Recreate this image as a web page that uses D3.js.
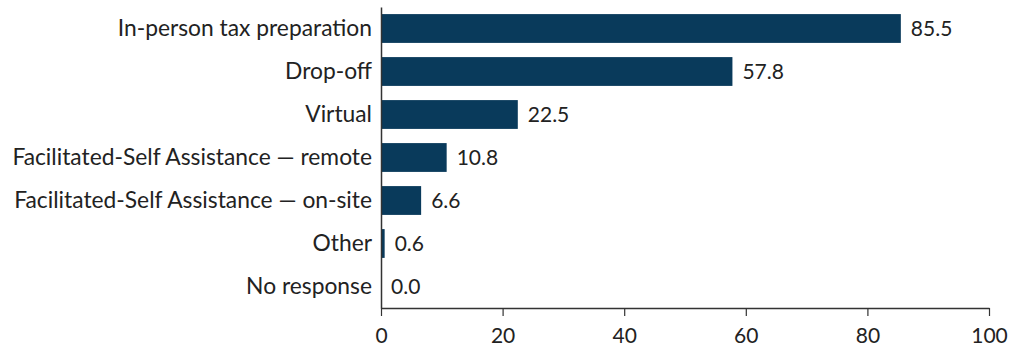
<!DOCTYPE html>
<html>
<head>
<meta charset="utf-8">
<script src="https://cdn.jsdelivr.net/npm/d3@7"></script>
<style>
  html, body { margin: 0; padding: 0; background: #fff; }
  svg text { font-family: "Lato", "Noto Sans", sans-serif; fill: #222; }
</style>
</head>
<body>
<svg id="chart" width="1015" height="350"></svg>
<script>
// Service types offered, with the share of sites offering each (percent)
const categories = [
  "In-person tax preparation",
  "Drop-off",
  "Virtual",
  "Facilitated-Self Assistance \u2014 remote",
  "Facilitated-Self Assistance \u2014 on-site",
  "Other",
  "No response"
];
const values = [85.5, 57.8, 22.5, 10.8, 6.6, 0.6, 0.0];
const xTicks = [0, 20, 40, 60, 80, 100];

const svg = d3.select("#chart");
const margin = { left: 381, right: 26, top: 7, bottom: 42 };
const W = 1015, H = 350;

const x = d3.scaleLinear().domain([0, 100]).range([margin.left, W - margin.right]);
const y = d3.scaleBand().domain(categories).range([margin.top, H - margin.bottom]).paddingInner(0.33).paddingOuter(0.165);

const barColor = "#093a5b";

// bars
svg.append("g").selectAll("rect").data(categories).join("rect")
  .attr("x", x(0))
  .attr("y", d => y(d))
  .attr("width", (d, i) => x(values[i]) - x(0))
  .attr("height", y.bandwidth())
  .attr("fill", barColor);

// value labels
svg.append("g").selectAll("text").data(categories).join("text")
  .attr("x", (d, i) => x(values[i]) + 10)
  .attr("y", d => y(d) + y.bandwidth() / 2)
  .attr("dy", "0.36em")
  .attr("font-size", 21)
  .text((d, i) => values[i].toFixed(1));

// x axis
const xAxis = svg.append("g")
  .attr("transform", `translate(0,${H - margin.bottom})`)
  .call(d3.axisBottom(x).tickValues(xTicks).tickSize(8).tickSizeOuter(0).tickPadding(12));
xAxis.select(".domain").attr("stroke", "#333").attr("stroke-width", 1.5);
xAxis.selectAll(".tick line").attr("stroke", "#333").attr("stroke-width", 1.2);
xAxis.selectAll(".tick text").attr("font-size", 21).attr("font-family", null).attr("fill", "#222");

// y axis
const yAxis = svg.append("g")
  .attr("transform", `translate(${x(0)},0)`)
  .call(d3.axisLeft(y).tickSize(0).tickPadding(9));
yAxis.select(".domain").attr("stroke", "#333").attr("stroke-width", 1.5);
yAxis.selectAll(".tick text").attr("font-size", 22.8).attr("font-family", null).attr("fill", "#222");
</script>
</body>
</html>
